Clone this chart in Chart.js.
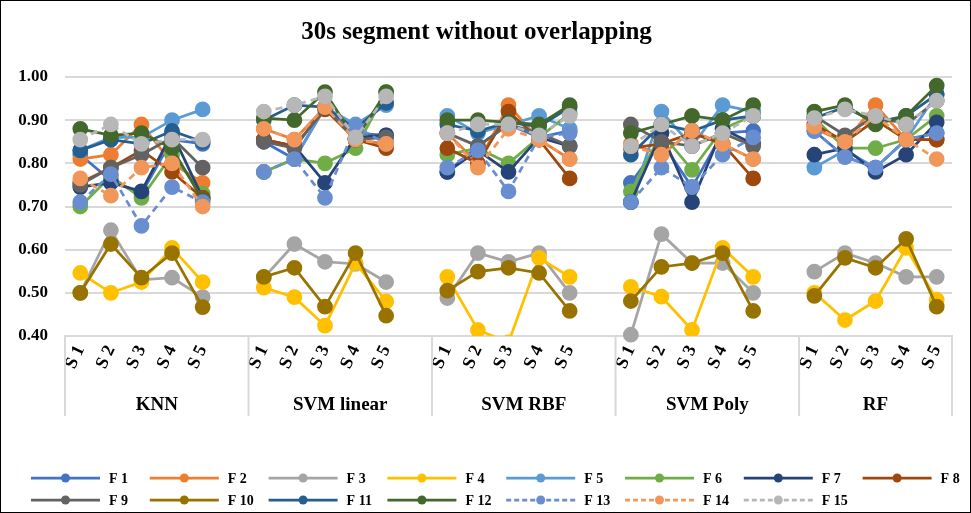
<!DOCTYPE html>
<html><head><meta charset="utf-8">
<script src="https://cdn.jsdelivr.net/npm/chart.js@4.4.1/dist/chart.umd.min.js"></script>
<style>
html,body{margin:0;padding:0;background:#fff}
#wrap{width:969px;height:511px;border:1px solid #000;background:#fff}
canvas{display:block}
</style></head>
<body><div id="wrap"><canvas id="c" width="969" height="511"></canvas></div>
<script>
const TITLE = '30s segment without overlapping';
const GROUPS = ['KNN', 'SVM linear', 'SVM RBF', 'SVM Poly', 'RF'];
const SUBSETS = ['S 1', 'S 2', 'S 3', 'S 4', 'S 5'];
const SERIES = ['F 1','F 2','F 3','F 4','F 5','F 6','F 7','F 8','F 9','F 10','F 11','F 12','F 13','F 14','F 15'];
const Y_TICKS = [0.40, 0.50, 0.60, 0.70, 0.80, 0.90, 1.00];

// values: KNN S1..S5, SVM linear S1..S5, SVM RBF S1..S5, SVM Poly S1..S5, RF S1..S5
const F1  = [0.82,0.76,0.73,0.855,0.845, 0.85,0.81,0.93,0.87,0.865, 0.78,0.84,0.89,0.86,0.875, 0.755,0.85,0.745,0.87,0.875, 0.875,0.815,0.79,0.855,0.87];
const F2  = [0.81,0.82,0.89,0.80,0.755, 0.88,0.855,0.93,0.855,0.845, 0.87,0.80,0.935,0.855,0.81, 0.845,0.82,0.875,0.845,0.81, 0.88,0.85,0.935,0.855,0.855];
const F3  = [0.50,0.645,0.53,0.535,0.49, 0.535,0.613,0.572,0.567,0.525, 0.488,0.592,0.572,0.592,0.50, 0.403,0.636,0.569,0.569,0.50, 0.549,0.592,0.569,0.537,0.537];
const F4  = [0.546,0.50,0.525,0.604,0.525, 0.512,0.49,0.424,0.569,0.48, 0.537,0.414,0.385,0.581,0.537, 0.514,0.491,0.414,0.604,0.537, 0.50,0.437,0.481,0.604,0.484];
const F5  = [0.83,0.86,0.86,0.90,0.925, 0.78,0.81,0.93,0.89,0.935, 0.91,0.87,0.89,0.91,0.88, 0.71,0.92,0.84,0.935,0.92, 0.79,0.83,0.79,0.855,0.96];
const F6  = [0.70,0.77,0.72,0.82,0.73, 0.78,0.81,0.80,0.835,0.965, 0.82,0.835,0.80,0.86,0.915, 0.735,0.87,0.785,0.88,0.91, 0.905,0.835,0.835,0.855,0.91];
const F7  = [0.745,0.755,0.735,0.87,0.72, 0.855,0.84,0.755,0.86,0.865, 0.78,0.83,0.78,0.86,0.84, 0.71,0.87,0.71,0.88,0.845, 0.82,0.835,0.78,0.82,0.895];
const F8  = [0.755,0.79,0.83,0.78,0.72, 0.855,0.84,0.925,0.855,0.835, 0.835,0.80,0.92,0.855,0.765, 0.835,0.845,0.87,0.845,0.765, 0.89,0.85,0.90,0.855,0.855];
const F9  = [0.75,0.79,0.82,0.86,0.79, 0.85,0.835,0.93,0.855,0.86, 0.87,0.84,0.89,0.87,0.84, 0.89,0.85,0.84,0.87,0.84, 0.91,0.865,0.91,0.89,0.945];
const F10 = [0.50,0.613,0.535,0.592,0.467, 0.537,0.558,0.468,0.592,0.447, 0.505,0.549,0.558,0.546,0.458, 0.481,0.56,0.569,0.592,0.458, 0.493,0.581,0.558,0.625,0.468];
const F11 = [0.83,0.855,0.845,0.875,0.85, 0.90,0.935,0.93,0.88,0.94, 0.89,0.875,0.895,0.885,0.93, 0.82,0.89,0.875,0.90,0.91, 0.905,0.93,0.895,0.91,0.96];
const F12 = [0.88,0.865,0.87,0.835,0.715, 0.905,0.90,0.965,0.855,0.965, 0.90,0.90,0.895,0.89,0.935, 0.87,0.89,0.91,0.90,0.935, 0.92,0.935,0.89,0.91,0.98];
const F13 = [0.71,0.775,0.655,0.745,0.71, 0.78,0.81,0.72,0.885,0.845, 0.79,0.83,0.735,0.86,0.87, 0.71,0.79,0.745,0.82,0.86, 0.875,0.815,0.79,0.855,0.87];
const F14 = [0.765,0.725,0.79,0.80,0.70, 0.88,0.855,0.93,0.855,0.845, 0.87,0.79,0.88,0.855,0.81, 0.84,0.82,0.875,0.845,0.81, 0.885,0.85,0.91,0.855,0.81];
const F15 = [0.855,0.89,0.845,0.855,0.855, 0.92,0.935,0.955,0.86,0.955, 0.87,0.89,0.89,0.865,0.91, 0.84,0.89,0.84,0.87,0.91, 0.905,0.925,0.91,0.89,0.945];

const VALUES = [F1,F2,F3,F4,F5,F6,F7,F8,F9,F10,F11,F12,F13,F14,F15];
const COLORS = ['#4472C4','#ED7D31','#A5A5A5','#FFC000','#5B9BD5','#70AD47','#264478','#9E480E','#636363','#997300','#255E91','#43682B','#698ED0','#F1975A','#B7B7B7'];
const DASHED = [false,false,false,false,false,false,false,false,false,false,false,false,true,true,true];

const labels = [];
GROUPS.forEach((g, gi) => {
  SUBSETS.forEach(s => labels.push(s));
  if (gi < GROUPS.length - 1) labels.push('');
});
function expand(arr) {
  const out = [];
  GROUPS.forEach((g, gi) => {
    for (let k = 0; k < SUBSETS.length; k++) out.push(arr[gi * SUBSETS.length + k]);
    if (gi < GROUPS.length - 1) out.push(null);
  });
  return out;
}

const FONT = 'Liberation Serif';
const datasets = SERIES.map((name, i) => ({
  label: name,
  data: expand(VALUES[i]),
  borderColor: COLORS[i],
  backgroundColor: COLORS[i],
  pointBackgroundColor: COLORS[i],
  pointBorderColor: COLORS[i],
  borderWidth: 2.75,
  pointRadius: 6.5,
  pointHoverRadius: 6.5,
  borderDash: DASHED[i] ? [7, 5] : [],
  spanGaps: false,
  tension: 0,
  order: SERIES.length - i,
  clip: (name === 'F 4') ? 0 : false
}));

const groupPlugin = {
  id: 'groupAxis',
  afterDraw(chart) {
    const {ctx, chartArea} = chart;
    const x = chart.scales.x;
    const slot = x.getPixelForValue(1) - x.getPixelForValue(0);
    const bottom = chartArea.bottom;
    const edges = [];
    GROUPS.forEach((g, gi) => edges.push(x.getPixelForValue(gi * (SUBSETS.length + 1)) - slot / 2));
    edges.push(chartArea.right);
    ctx.save();
    ctx.strokeStyle = '#D9D9D9';
    ctx.lineWidth = 2;
    edges.forEach(e => {
      ctx.beginPath(); ctx.moveTo(e, bottom); ctx.lineTo(e, bottom + 80); ctx.stroke();
    });
    ctx.fillStyle = '#000';
    ctx.font = 'bold 19px "' + FONT + '"';
    ctx.textAlign = 'center';
    ctx.textBaseline = 'middle';
    GROUPS.forEach((g, gi) => ctx.fillText(g, (edges[gi] + edges[gi + 1]) / 2, bottom + 69));
    ctx.restore();
  }
};

const legendPlugin = {
  id: 'lineLegend',
  afterDraw(chart) {
    const ctx = chart.ctx;
    ctx.save();
    ctx.font = 'bold 14px "' + FONT + '"';
    ctx.textBaseline = 'middle';
    ctx.textAlign = 'left';
    chart.data.datasets.forEach((ds, i) => {
      const row = i < 8 ? 0 : 1;
      const col = i < 8 ? i : i - 8;
      const x0 = 30 + col * 118.8;
      const y = row === 0 ? 477 : 499;
      ctx.strokeStyle = ds.borderColor;
      ctx.lineWidth = 2.75;
      ctx.setLineDash(ds.borderDash.length ? [5, 3] : []);
      ctx.beginPath(); ctx.moveTo(x0, y); ctx.lineTo(x0 + 69, y); ctx.stroke();
      ctx.setLineDash([]);
      ctx.fillStyle = ds.borderColor;
      ctx.beginPath(); ctx.arc(x0 + 34.5, y, 4.5, 0, Math.PI * 2); ctx.fill();
      ctx.fillStyle = '#000';
      ctx.fillText(ds.label, x0 + 78, y + 1);
    });
    ctx.restore();
  }
};

new Chart(document.getElementById('c'), {
  type: 'line',
  data: {labels, datasets},
  options: {
    responsive: false,
    animation: false,
    devicePixelRatio: 1,
    layout: {padding: {left: 0, right: 18, top: 0, bottom: 0}},
    plugins: {
      legend: {display: false},
      tooltip: {enabled: false},
      title: {
        display: true, text: TITLE, color: '#000',
        font: {family: FONT, size: 25, weight: 'bold', lineHeight: 1.2},
        padding: {top: 17, bottom: 29}
      }
    },
    scales: {
      x: {
        type: 'category',
        offset: true,
        grid: {display: false, drawTicks: false},
        border: {display: true, color: '#D9D9D9', width: 2},
        ticks: {autoSkip: false, minRotation: 65, maxRotation: 65, color: '#000',
          font: {family: FONT, size: 18, weight: 'bold'}, padding: 6},
        afterFit(s) { s.height = 176; }
      },
      y: {
        min: 0.4, max: 1.0,
        afterBuildTicks(s) { s.ticks = Y_TICKS.map(v => ({value: v})); },
        grid: {color: '#D9D9D9', lineWidth: 2, drawTicks: false},
        border: {display: false},
        ticks: {color: '#000', padding: 17, font: {family: FONT, size: 17, weight: 'bold'},
          callback: v => Number(v).toFixed(2)},
        afterFit(s) { s.width = 64; }
      }
    }
  },
  plugins: [groupPlugin, legendPlugin]
});
</script>
</body></html>
